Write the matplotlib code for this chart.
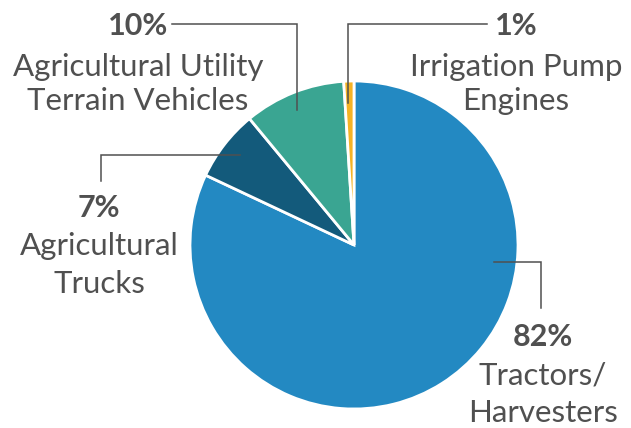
import matplotlib
matplotlib.use("Agg")
import matplotlib.pyplot as plt

# share of equipment emissions by vehicle type (%)
categories = [["Tractors/", "Harvesters"], ["Agricultural", "Trucks"],
              ["Agricultural Utility", "Terrain Vehicles"],
              ["Irrigation Pump", "Engines"]]
shares = [82, 7, 10, 1]
colors = ["#2389C2", "#135A7B", "#3AA592", "#F5B324"]

INK = "#505050"
W, H = 631, 428

plt.rcParams["font.family"] = ["Lato", "DejaVu Sans"]

fig = plt.figure(figsize=(W / 100, H / 100), dpi=100)
ax = fig.add_axes([0, 0, 1, 1])


def py(y):
    # pixel rows are measured from the top
    return H - y


ax.pie(shares, colors=colors, startangle=90, counterclock=False,
       center=(354, py(245)), radius=164, frame=True,
       wedgeprops=dict(edgecolor="white", linewidth=2))
ax.set_xlim(0, W)
ax.set_ylim(0, H)
ax.set_aspect("equal")
ax.axis("off")

# label layout: (centre x, baselines of the three text rows, leader polyline)
layout = [
    (543, (346, 385, 422), [(494, 262), (541, 262), (541, 308)]),
    (99, (217, 255, 293), [(240, 155), (101, 155), (101, 181)]),
    (138, (35, 76, 110), [(172, 24), (297, 24), (297, 110)]),
    (516, (35, 76, 110), [(348, 103), (348, 24), (487, 24)]),
]

for lines, val, (cx, bases, pts) in zip(categories, shares, layout):
    xs = [p[0] for p in pts]
    ys = [py(p[1]) for p in pts]
    ax.plot(xs, ys, color=INK, lw=1.1, solid_joinstyle="miter")
    ax.text(cx, py(bases[0]), "%d%%" % val, ha="center", va="baseline",
            fontsize=22, fontweight="bold", color=INK)
    for line, b in zip(lines, bases[1:]):
        ax.text(cx, py(b), line, ha="center", va="baseline",
                fontsize=22.5, color=INK)

fig.savefig("out.png", dpi=100)
